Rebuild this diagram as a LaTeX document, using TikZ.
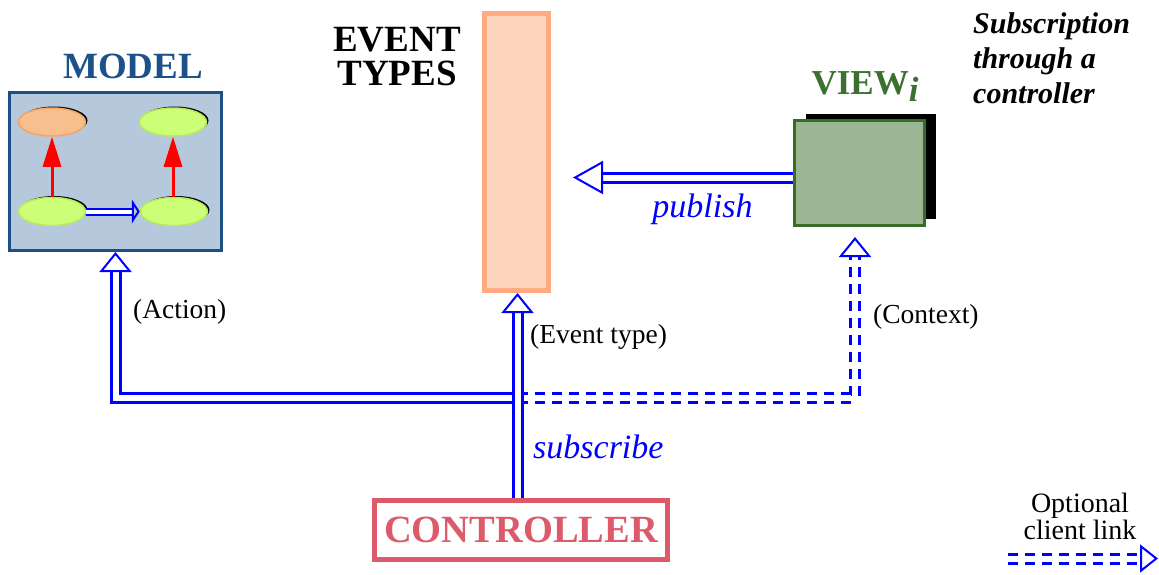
\documentclass[tikz,border=0pt]{standalone}
\usepackage{fontspec}
\setmainfont{Liberation Serif}
\usepackage{tikz}
\usetikzlibrary{arrows.meta,shadows,shapes.geometric}
\definecolor{mvcLink}{HTML}{0000FF}
\definecolor{mvcModelLine}{HTML}{1C4F84}
\definecolor{mvcModelFill}{HTML}{B5C8DC}
\definecolor{mvcModelText}{HTML}{1C5189}
\definecolor{mvcEventLine}{HTML}{FFAA80}
\definecolor{mvcEventFill}{HTML}{FDD4BC}
\definecolor{mvcViewLine}{HTML}{386C26}
\definecolor{mvcViewFill}{HTML}{9AB692}
\definecolor{mvcViewText}{HTML}{3C7030}
\definecolor{mvcCtrl}{HTML}{DD5A6A}
\definecolor{mvcOrange}{HTML}{F8BF8E}
\definecolor{mvcOrangeLine}{HTML}{F5A55E}
\definecolor{mvcGreen}{HTML}{CCFF77}
\definecolor{mvcGreenLine}{HTML}{B8EC5C}
\tikzset{
  mvc diagram/.style={x=1pt, y=-1pt, line join=miter},
  mvc title/.style={font=\fontsize{37}{34}\selectfont\bfseries, inner sep=0pt},
  mvc label/.style={font=\fontsize{27.5}{23}\selectfont, inner sep=0pt},
  mvc verb/.style={font=\fontsize{34}{34}\selectfont\itshape, text=mvcLink, inner sep=0pt},
  mvc model box/.style={draw=mvcModelLine, fill=mvcModelFill, line width=3pt,
    minimum width=212pt, minimum height=158pt, inner sep=0pt},
  mvc events box/.style={draw=mvcEventLine, fill=mvcEventFill, line width=5pt,
    minimum width=64pt, minimum height=277pt, inner sep=0pt},
  mvc view box/.style={draw=mvcViewLine, fill=mvcViewFill, line width=3pt,
    minimum width=130pt, minimum height=105pt, inner sep=0pt,
    drop shadow={shadow xshift=11pt, shadow yshift=6.5pt, fill=black, opacity=1}},
  mvc ctrl box/.style={draw=mvcCtrl, line width=5pt, text=mvcCtrl,
    font=\fontsize{38.5}{38.5}\selectfont\bfseries,
    minimum width=293pt, minimum height=59pt, inner sep=0pt},
  mvc state/.style={ellipse, line width=1.5pt, minimum width=67pt, minimum height=28pt,
    inner sep=0pt, drop shadow={shadow xshift=2pt, shadow yshift=1.5pt, fill=black, opacity=1}},
  mvc flow/.style={draw=red, line width=3pt, -{Triangle[length=30pt, width=18pt]}},
  mvc step link/.style={draw=mvcLink, line width=2pt, double=white, double distance=4pt,
    -{Triangle[open, length=8pt, width=24pt, line width=2pt]}},
  mvc link/.style={draw=mvcLink, line width=3pt, double=white, double distance=6pt},
  mvc optional/.style={mvc link, dash pattern=on 10pt off 7pt},
  mvc open tip/.style={-{Triangle[open, length=20pt, width=32pt, line width=2pt]}}
}
\begin{document}
\begin{tikzpicture}[mvc diagram]
\useasboundingbox (0,0) rectangle (1159,574);
% model
\node[mvc model box] (model) at (115.5,171.5) {};
\node[mvc title, text=mvcModelText, anchor=base] (modelT) at (133,78) {MODEL};
\node[mvc state, fill=mvcOrange, draw=mvcOrangeLine] (s1) at (52,122) {};
\node[mvc state, fill=mvcGreen, draw=mvcGreenLine] (s2) at (173,122) {};
\node[mvc state, fill=mvcGreen, draw=mvcGreenLine] (s3) at (52,211.5) {};
\node[mvc state, fill=mvcGreen, draw=mvcGreenLine] (s4) at (174,211.5) {};
\draw[mvc flow] (s3) -- (s1);
\draw[mvc flow] (s4.north -| s2) -- (s2);
\draw[mvc step link] (s3) -- (s4);
% event types
\node[mvc events box] (events) at (516.5,152) {};
\node[mvc title, align=center, anchor=base] (eventsT) at (397,85.5) {EVENT\\TYPES};
% view
\node[mvc view box] (view) at (859.5,173) {};
\node[mvc title, text=mvcViewText, anchor=base, font=\fontsize{35}{35}\selectfont\bfseries]
  (viewT) at (865,94) {VIEW\raisebox{-7pt}{\itshape i}};
\node[font=\fontsize{30}{35}\selectfont\bfseries\itshape, align=left, anchor=base west, inner sep=0pt]
  (note) at (973,103) {Subscription\\through a\\controller};
% controller
\node[mvc ctrl box] (ctrl) at (521,530) {CONTROLLER};
% links
\coordinate (pubEnd) at (573,177.5);
\draw[mvc link, -{Triangle[open, length=30pt, width=33pt, line width=2pt]}] (view.west |- pubEnd) -- (pubEnd);
\node[mvc verb, anchor=base] (pubT) at (702.5,217) {publish};
\coordinate (junc) at (517.5,398);
\coordinate (ctxTop) at (855,237);
\draw[mvc link, mvc open tip] (junc) -- (junc -| model.south) -- (model.south);
\draw[mvc optional, mvc open tip] (junc) -- (junc -| ctxTop) -- (ctxTop);
\draw[mvc link, mvc open tip] (junc |- ctrl.north) -- (junc |- events.south);
\node[mvc verb, anchor=base west] (subT) at (533,458) {subscribe};
\node[mvc label, anchor=base west] (actT) at (133,318) {(Action)};
\node[mvc label, anchor=base west] (evT) at (530,343) {(Event type)};
\node[mvc label, anchor=base west] (ctxT) at (873,323) {(Context)};
% legend
\node[mvc label, font=\fontsize{28}{23}\selectfont, align=center, anchor=base] (legT) at (1080,539) {Optional\\client link};
\coordinate (legS) at (1008,558.5);
\coordinate (legE) at (1158,558.5);
\draw[mvc optional, -{Triangle[open, length=18pt, width=28pt, line width=2pt]}] (legS) -- (legE);
\end{tikzpicture}
\end{document}
